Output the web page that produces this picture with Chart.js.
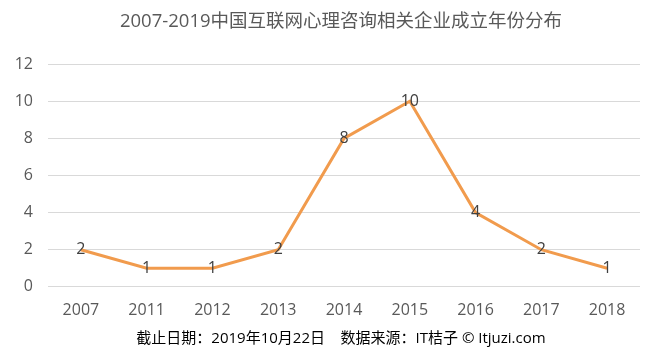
<!DOCTYPE html>
<html><head><meta charset="utf-8">
<script src="https://cdn.jsdelivr.net/npm/chart.js@4.4.0/dist/chart.umd.min.js"></script>
<style>html,body{margin:0;padding:0;background:#fff}#wrap{width:669px;height:355px}</style>
</head><body><div id="wrap"><canvas id="c" width="669" height="355"></canvas></div>
<script>
const categories = ['2007','2011','2012','2013','2014','2015','2016','2017','2018'];
const values = [2,1,1,2,8,10,4,2,1];
const yTicks = [0,2,4,6,8,10,12];
const titleText = '2007-2019中国互联网心理咨询相关企业成立年份分布';
const footerText = '截止日期：2019年10月22日    数据来源：IT桔子 © Itjuzi.com';

const FONT = '"Open Sans","Noto Sans CJK SC",sans-serif';

const labelPlugin = {
  id: 'pointLabels',
  afterDatasetsDraw(chart) {
    const ctx = chart.ctx;
    const meta = chart.getDatasetMeta(0);
    ctx.save();
    ctx.font = '16px ' + FONT;
    ctx.fillStyle = '#404040';
    ctx.textAlign = 'center';
    ctx.textBaseline = 'middle';
    meta.data.forEach((p, i) => {
      ctx.fillText(String(values[i]), p.x, p.y);
    });
    ctx.restore();
  }
};

new Chart(document.getElementById('c'), {
  type: 'line',
  data: {
    labels: categories,
    datasets: [{
      data: values,
      borderColor: '#F19B4D',
      borderWidth: 3,
      pointRadius: 0,
      tension: 0,
      fill: false
    }]
  },
  options: {
    responsive: false,
    animation: false,
    layout: { padding: { left: 14, right: 1, top: 0, bottom: 0 } },
    plugins: {
      legend: { display: false },
      tooltip: { enabled: false },
      title: {
        display: true, text: titleText, color: '#595959',
        font: { family: FONT, size: 18.5, weight: 'normal' },
        padding: { top: 11, bottom: 31 }
      },
      subtitle: {
        display: true, text: footerText, position: 'bottom', color: '#000',
        font: { family: FONT, size: 15, weight: 'normal' },
        padding: { top: 4, bottom: 7 }
      }
    },
    scales: {
      x: {
        offset: true,
        grid: { display: false },
        border: { display: false },
        ticks: { color: '#595959', font: { family: FONT, size: 16 }, padding: 6 }
      },
      y: {
        min: 0, max: 12,
        afterBuildTicks(axis) { axis.ticks = yTicks.map(v => ({ value: v })); },
        afterFit(axis) { axis.width = 34; },
        grid: { color: '#D9D9D9', drawTicks: false },
        border: { display: false },
        ticks: { color: '#595959', font: { family: FONT, size: 16 }, padding: 15 }
      },
      yR: {
        position: 'right',
        min: 0, max: 12,
        afterFit(axis) { axis.width = 28; },
        grid: { display: false },
        border: { display: false },
        ticks: { display: false }
      }
    }
  },
  plugins: [labelPlugin]
});
</script></body></html>
